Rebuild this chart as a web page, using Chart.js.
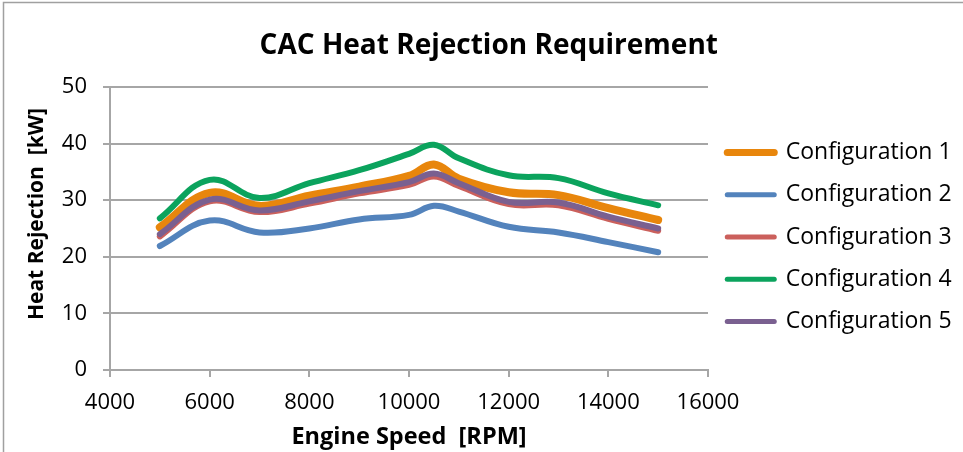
<!DOCTYPE html>
<html>
<head>
<meta charset="utf-8">
<script src="https://cdn.jsdelivr.net/npm/chart.js@4.4.1/dist/chart.umd.min.js"></script>
<style>
  html, body { margin: 0; padding: 0; background: #ffffff; }
  #wrap { position: relative; width: 963px; height: 452px; overflow: hidden; }
  canvas { display: block; }
</style>
</head>
<body>
<div id="wrap"><canvas id="chart" width="963" height="452"></canvas></div>
<script>
// Engine speeds (RPM) at which heat rejection was evaluated
const engineSpeed = [5000, 6000, 7000, 8000, 9000, 10000, 10500, 11000, 12000, 13000, 14000, 15000];

// Charge-air-cooler heat rejection per configuration (kW)
const config1 = [25.2, 31.3, 29.0, 30.8, 32.4, 34.3, 36.3, 33.8, 31.4, 30.9, 28.6, 26.5];
const config2 = [21.9, 26.4, 24.3, 25.0, 26.6, 27.4, 29.0, 28.0, 25.3, 24.3, 22.6, 20.8];
const config3 = [23.6, 29.8, 27.9, 29.4, 31.2, 32.7, 34.2, 32.5, 29.3, 29.1, 26.7, 24.6];
const config4 = [26.8, 33.6, 30.4, 33.0, 35.3, 38.2, 39.8, 37.4, 34.4, 33.9, 31.2, 29.1];
const config5 = [24.0, 30.1, 28.2, 29.8, 31.6, 33.2, 34.7, 33.0, 29.7, 29.6, 27.1, 25.0];

const seriesNames = ['Configuration 1', 'Configuration 2', 'Configuration 3', 'Configuration 4', 'Configuration 5'];
const seriesValues = [config1, config2, config3, config4, config5];

// Axis ranges and tick spacing
const xTicks = { min: 4000, max: 16000, step: 2000 };
const yTicks = { min: 0, max: 50, step: 10 };

const chartTitle = 'CAC Heat Rejection Requirement';
const xTitle = 'Engine Speed  [RPM]';
const yTitle = 'Heat Rejection  [kW]';

const colors = ['#E8860C', '#5383BC', '#CB605C', '#0BA35D', '#7A6090'];
const widths = [8, 6, 6, 6, 6];
// later series sit on top of earlier ones
const drawOrder = [5, 4, 3, 2, 1];

const gridGrey = '#A6A6A6';
const FONT = "'Open Sans', 'Noto Sans', sans-serif";

// legend geometry
const legendFontSize = 23;
const legendPad = 19.25;
const legendLine = 47;
const legendBoxWidth = 255;

function textWidth(str, font) {
  const c = document.createElement('canvas').getContext('2d');
  c.font = font;
  return c.measureText(str).width;
}
const widestLabel = Math.max.apply(null, seriesNames.map(n => textWidth(n, legendFontSize + 'px ' + FONT)));
const legendNatural = legendPad + legendLine + legendFontSize / 2 + widestLabel + 10;
const rightPad = Math.max(0, legendBoxWidth - legendNatural);

const datasets = seriesValues.map((vals, i) => ({
  label: seriesNames[i],
  data: engineSpeed.map((x, k) => ({ x: x, y: vals[k] })),
  borderColor: colors[i],
  backgroundColor: colors[i],
  borderWidth: widths[i],
  borderCapStyle: 'round',
  borderJoinStyle: 'round',
  pointRadius: 0,
  pointHoverRadius: 0,
  pointBorderWidth: widths[i] - 1,
  pointBorderColor: colors[i],
  pointBackgroundColor: colors[i],
  tension: 0.4,
  fill: false,
  order: drawOrder[i]
}));

// white background, outer frame and the rotated value-axis title
const decorations = {
  id: 'decorations',
  beforeDraw(chart) {
    const ctx = chart.ctx;
    ctx.save();
    ctx.fillStyle = '#ffffff';
    ctx.fillRect(0, 0, chart.width, chart.height);
    ctx.strokeStyle = '#A0A0A0';
    ctx.lineWidth = 1.5;
    ctx.strokeRect(3.5, 2.5, chart.width + 20, chart.height + 20);
    ctx.restore();
  },
  afterDraw(chart) {
    const ctx = chart.ctx;
    ctx.save();
    ctx.translate(37, 214);
    ctx.rotate(-Math.PI / 2);
    ctx.font = "bold 21px " + FONT;
    ctx.fillStyle = '#000000';
    ctx.textAlign = 'center';
    ctx.textBaseline = 'middle';
    ctx.fillText(yTitle, 0, 0);
    ctx.restore();
  }
};

const baseLabels = Chart.defaults.plugins.legend.labels.generateLabels;

new Chart(document.getElementById('chart'), {
  type: 'line',
  data: { datasets: datasets },
  plugins: [decorations],
  options: {
    responsive: false,
    animation: false,
    events: [],
    layout: { padding: { left: 16, right: rightPad, top: 0, bottom: 0 } },
    plugins: {
      tooltip: { enabled: false },
      title: {
        display: true,
        text: chartTitle,
        color: '#000000',
        font: { family: FONT, size: 28, weight: 'bold', lineHeight: 1.2 },
        padding: { top: 29, bottom: 24.4 }
      },
      legend: {
        display: true,
        position: 'right',
        fullSize: false,
        maxWidth: legendBoxWidth,
        title: { display: true, text: '', font: { size: 10, lineHeight: 1.2 }, padding: 2.5 },
        labels: {
          color: '#000000',
          font: { family: FONT, size: legendFontSize },
          usePointStyle: true,
          pointStyle: 'line',
          pointStyleWidth: legendLine,
          padding: legendPad,
          sort: (a, b) => a.datasetIndex - b.datasetIndex,
          generateLabels: (chart) => baseLabels(chart).map(l => Object.assign(l, { lineCap: 'round' }))
        }
      }
    },
    scales: {
      x: {
        type: 'linear',
        min: xTicks.min,
        max: xTicks.max,
        afterFit(scale) { scale.height = 82; },
        ticks: {
          stepSize: xTicks.step,
          format: { useGrouping: false },
          color: '#000000',
          font: { family: FONT, size: 22 },
          padding: 13,
          maxRotation: 0,
          autoSkip: false
        },
        grid: { display: true, drawOnChartArea: false, drawTicks: true, tickLength: 7, color: gridGrey, lineWidth: 2 },
        border: { display: true, color: gridGrey, width: 2 },
        title: {
          display: true,
          text: xTitle,
          color: '#000000',
          font: { family: FONT, size: 23.5, weight: 'bold', lineHeight: 1.2 },
          padding: { top: 0, bottom: 1 }
        }
      },
      y: {
        type: 'linear',
        min: yTicks.min,
        max: yTicks.max,
        afterFit(scale) { scale.width = 94; },
        ticks: {
          stepSize: yTicks.step,
          color: '#000000',
          font: { family: FONT, size: 22 },
          padding: 16
        },
        grid: { display: true, drawTicks: true, tickLength: 7, color: gridGrey, lineWidth: 2 },
        border: { display: true, color: gridGrey, width: 2 }
      }
    }
  }
});
</script>
</body>
</html>
